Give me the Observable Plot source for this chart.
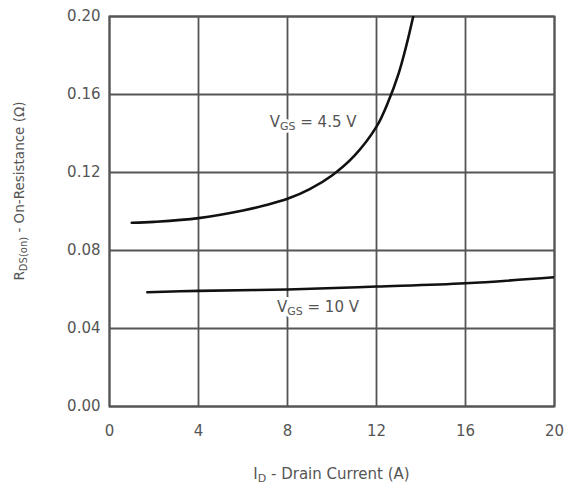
<!DOCTYPE html>
<html>
<head>
<meta charset="utf-8">
<script src="https://cdn.jsdelivr.net/npm/d3@7"></script>
<script src="https://cdn.jsdelivr.net/npm/@observablehq/plot@0.6"></script>
<style>
  html, body { margin: 0; padding: 0; background: #fff; }
  #chart svg { display: block; }
</style>
</head>
<body>
<div id="chart"></div>
<script>
// Drain current (A) and on-resistance (Ω)
const id45 = [1.0, 2.0, 4.0, 6.0, 7.0, 8.0, 9.0, 10.0, 11.0, 12.0, 12.5, 13.0, 13.35, 13.65];
const r45  = [0.0942, 0.0947, 0.0966, 0.1005, 0.1032, 0.1065, 0.1115, 0.1185, 0.1285, 0.1435, 0.1555, 0.171, 0.1855, 0.200];
const id10 = [1.7, 4.0, 8.0, 12.0, 16.0, 20.0];
const r10  = [0.0586, 0.0593, 0.0600, 0.0615, 0.0632, 0.0663];

const xTicks = [0, 4, 8, 12, 16, 20];
const yTicks = [0, 0.04, 0.08, 0.12, 0.16, 0.20];

const curveLabels = [
  {x: 9.15, y: 0.146, parts: [["V", false], ["GS", true], [" = 4.5 V", false]]},
  {x: 9.37, y: 0.0508, parts: [["V", false], ["GS", true], [" = 10 V", false]]}
];
const xTitle = [["I", false], ["D", true], [" - Drain Current (A)", false]];
const yTitle = [["R", false], ["DS(on)", true], [" - On-Resistance (Ω)", false]];

const s45 = id45.map((v, i) => ({id: v, r: r45[i]}));
const s10 = id10.map((v, i) => ({id: v, r: r10[i]}));

const ink = "#555";
const plot = Plot.plot({
  width: 567,
  height: 486,
  marginLeft: 109,
  marginRight: 13,
  marginTop: 16,
  marginBottom: 80,
  style: {fontFamily: "DejaVu Sans", fontSize: "15px", color: ink, background: "#fff"},
  x: {domain: [0, 20], label: null},
  y: {domain: [0, 0.2], label: null},
  marks: [
    Plot.gridX(xTicks, {stroke: ink, strokeOpacity: 1, strokeWidth: 1.8}),
    Plot.gridY(yTicks, {stroke: ink, strokeOpacity: 1, strokeWidth: 1.8}),
    Plot.frame({stroke: ink, strokeWidth: 2}),
    Plot.line(s45, {x: "id", y: "r", curve: "catmull-rom", stroke: "#111", strokeWidth: 2.6, clip: true}),
    Plot.line(s10, {x: "id", y: "r", curve: "catmull-rom", stroke: "#111", strokeWidth: 2.6, clip: true}),
    Plot.text(curveLabels, {x: "x", y: "y", text: d => d.parts.map(p => p[0]).join(""),
      fill: ink, stroke: "#fff", strokeWidth: 6, fontSize: 15, className: "curve-label"}),
    Plot.axisX(xTicks, {tickSize: 0, tickPadding: 19, tickFormat: d => String(d), fill: ink}),
    Plot.axisY(yTicks, {tickSize: 0, tickPadding: 9, tickFormat: d3.format(".2f"), fill: ink})
  ]
});

document.getElementById("chart").appendChild(plot);
const svg = d3.select(plot);

function fill(textSel, parts, sub) {
  textSel.text(null);
  parts.forEach(([t, isSub]) => {
    const ts = textSel.append("tspan").text(t);
    if (isSub) ts.attr("font-size", sub).attr("baseline-shift", "-28%");
  });
}

svg.selectAll(".curve-label text").each(function(d, i) {
  fill(d3.select(this), curveLabels[i].parts, 11);
});

const xs = plot.scale("x");
const cx = (xs.range[0] + xs.range[1]) / 2;
const t1 = svg.append("text")
  .attr("x", cx).attr("y", 479)
  .attr("text-anchor", "middle").attr("fill", ink)
  .attr("font-family", "DejaVu Sans").attr("font-size", 15);
fill(t1, xTitle, 11);

const t2 = svg.append("text")
  .attr("transform", `translate(24,191) rotate(-90)`)
  .attr("text-anchor", "middle").attr("fill", ink)
  .attr("font-family", "DejaVu Sans").attr("font-size", 13.5);
fill(t2, yTitle, 10);
</script>
</body>
</html>
